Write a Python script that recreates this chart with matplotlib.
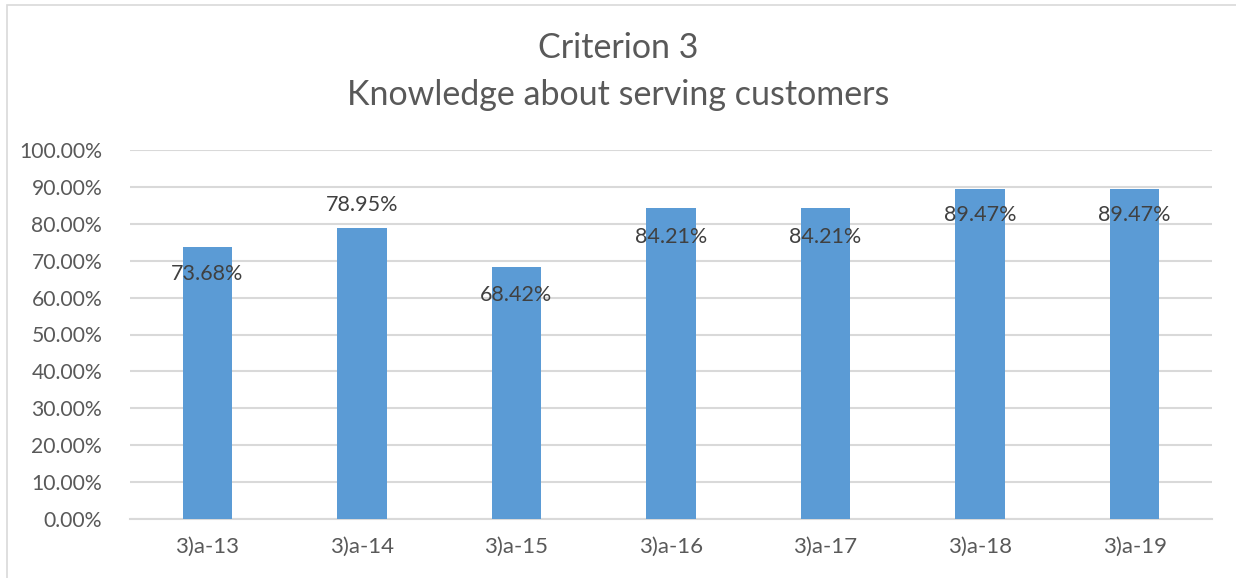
import matplotlib
matplotlib.use("Agg")
import matplotlib.pyplot as plt
from matplotlib.patches import Rectangle

categories = ["3)a-13", "3)a-14", "3)a-15", "3)a-16", "3)a-17", "3)a-18", "3)a-19"]
values = [73.68, 78.95, 68.42, 84.21, 84.21, 89.47, 89.47]
labels = ["73.68%", "78.95%", "68.42%", "84.21%", "84.21%", "89.47%", "89.47%"]
yticks = [0, 10, 20, 30, 40, 50, 60, 70, 80, 90, 100]

# label vertical offsets in pixels (relative to bar top)
label_offsets = [-27, 23, -28, -29, -29, -26, -26]

W, H = 1236, 578
fig = plt.figure(figsize=(W / 100, H / 100), dpi=100)
plt.rcParams['font.family'] = ['Lato', 'DejaVu Sans']

ax = fig.add_axes([130 / W, 1 - 519 / H, (1212 - 130) / W, (519 - 150) / H])

txt = "#595959"
x = list(range(len(categories)))
ax.bar(x, values, width=0.32, color="#5b9bd5", zorder=3)
ax.set_xlim(-0.5, len(categories) - 0.5)
ax.set_ylim(0, 100)
ax.set_yticks(yticks)
ax.set_yticklabels([f"{v:.2f}%" for v in yticks], fontsize=15.2, color=txt)
ax.set_xticks(x)
ax.set_xticklabels(categories, fontsize=16, color=txt)
ax.tick_params(axis="both", length=0)
ax.tick_params(axis="y", pad=20)
ax.tick_params(axis="x", pad=13)
ax.grid(axis="y", color="#d9d9d9", linewidth=1.5, zorder=0)
for s in ["top", "right", "left"]:
    ax.spines[s].set_visible(False)
ax.spines["bottom"].set_color("#d9d9d9")
ax.spines["bottom"].set_linewidth(1.5)

for xi, v, lab, off in zip(x, values, labels, label_offsets):
    ax.annotate(lab, (xi, v), xytext=(0, off * 0.72), textcoords="offset points",
                ha="center", va="center", fontsize=15.5, color="#404040", zorder=4)

fig.text(0.5, 1 - 48 / H, "Criterion 3", ha="center", va="center", fontsize=24.5, color=txt)
fig.text(0.5, 1 - 95 / H, "Knowledge about serving customers", ha="center", va="center",
         fontsize=24.5, color=txt)

fig.patches.append(Rectangle((7 / W, -0.01), 1.2, 1 - 5 / H + 0.01, transform=fig.transFigure,
                             fill=False, edgecolor="#d9d9d9", linewidth=1.2))

fig.savefig("out.png", dpi=100)
